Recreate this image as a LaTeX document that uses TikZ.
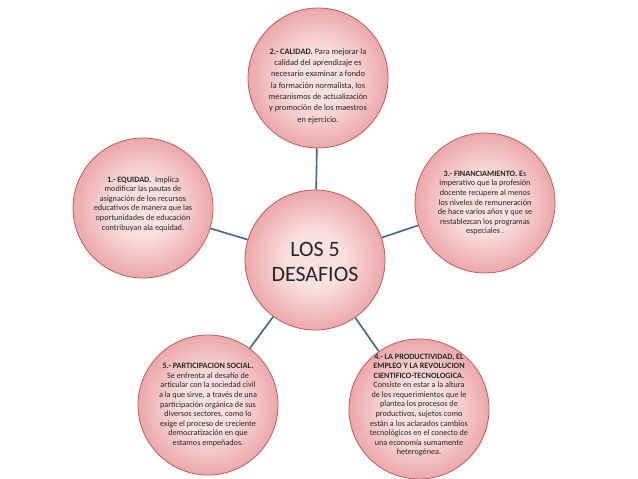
\documentclass[tikz,border=0pt]{standalone}
\usepackage{fontspec}
\setmainfont{Carlito}
\usetikzlibrary{positioning}
\definecolor{pinkin}{RGB}{251,224,224}
\definecolor{pinkout}{RGB}{236,168,170}
\definecolor{ballrim}{RGB}{192,90,88}
\definecolor{linkblue}{RGB}{60,100,142}
\pgfdeclareradialshading{pinkball}{\pgfpoint{0bp}{0bp}}{%
  color(0bp)=(pinkin); color(10bp)=(pinkin); color(25bp)=(pinkout);
  color(50bp)=(pinkout)}
\begin{document}
\begin{tikzpicture}[
  x=1bp, y=-1bp,
  ball/.style={circle, draw=ballrim, line width=0.8bp, inner sep=0pt,
               minimum size=140bp, shading=pinkball},
  txt/.style={align=center, inner sep=0pt, text=black!85,
              font=\fontsize{8.2}{9.6}\selectfont},
  wide/.style={txt, font=\fontsize{8.4}{11.4}\selectfont},
  hub/.style={align=center, inner sep=0pt, text=black!85,
              font=\fontsize{22}{25}\selectfont},
  link/.style={draw=linkblue, line width=1.6bp},
]
 \useasboundingbox (0,0) rectangle (638,479);

 % Circles
 \node[ball] (c0) at (315,260) {};
 \node[ball] (c1) at (143,208) {};
 \node[ball] (c2) at (318,78) {};
 \node[ball] (c3) at (485,203) {};
 \node[ball] (c4) at (419,409) {};
 \node[ball] (c5) at (208,405) {};

 % Connectors
 \draw[link] (c0) -- (c1);
 \draw[link] (c0) -- (c2);
 \draw[link] (c0) -- (c3);
 \draw[link] (c0) -- (c4);
 \draw[link] (c0) -- (c5);

 % Texts
 \node[hub] (t0) at (315,262) {LOS 5\\DESAFIOS};
 \node[txt] (t1) at (143,204)
   {\textbf{1.- EQUIDAD.}\ \ Implica\\modificar las pautas de\\
    asignación de los recursos\\educativos de manera que las\\
    oportunidades de educación\\contribuyan ala equidad.};
 \node[wide] (t2) at (318,86)
   {\textbf{2.- CALIDAD.} Para mejorar la\\calidad del aprendizaje es\\
    necesario examinar a fondo\\la formación normalista, los\\
    mecanismos de actualización\\y promoción de los maestros\\
    en ejercicio.};
 \node[txt] (t3) at (485,203)
   {\textbf{3.- FINANCIAMIENTO. E}s\\imperativo que la profesión\\
    docente recupere al menos\\los niveles de remuneración\\
    de hace varios años y que se\\restablezcan los programas\\
    especiales .};
 \node[txt] (t4) at (419,405)
   {\textbf{4.- LA PRODUCTIVIDAD, EL}\\\textbf{EMPLEO Y LA REVOLUCION}\\
    \textbf{CIENTIFICO-TECNOLOGICA.}\\Consiste en estar a la altura\\
    de los requerimientos que le\\plantea los procesos de\\
    productivos, sujetos como\\están a los aclarados cambios\\
    tecnológicos en el conecto de\\una economía sumamente\\
    heterogénea.};
 \node[txt] (t5) at (208,405)
   {\textbf{5.- PARTICIPACION SOCIAL.}\\Se enfrenta al desafío de\\
    articular con la sociedad civil\\a la que sirve, a través de una\\
    participación orgánica de sus\\diversos sectores, como lo\\
    exige el proceso de creciente\\democratización en que\\
    estamos empeñados.};
\end{tikzpicture}
\end{document}
